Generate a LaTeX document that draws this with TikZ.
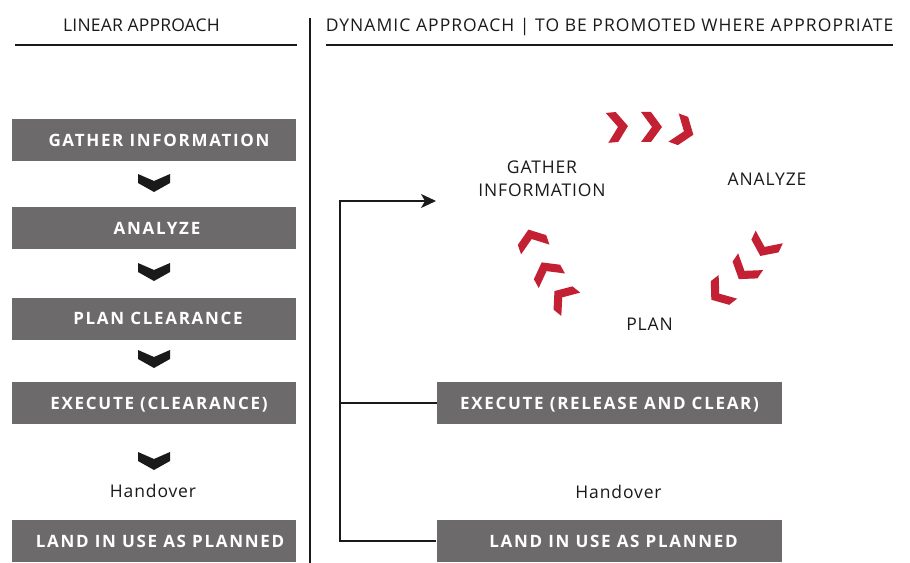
\documentclass[tikz,border=0pt]{standalone}
\usepackage{fontspec}
\setmainfont{Open Sans}
\newfontfamily\boxfont[LetterSpace=10]{Open Sans Bold}
\newfontfamily\hdfont[LetterSpace=5]{Open Sans}
\newfontfamily\hdfontB[LetterSpace=1]{Open Sans}
\newfontfamily\hdfontC[LetterSpace=6]{Open Sans}
\usetikzlibrary{arrows.meta}
\definecolor{boxgray}{RGB}{109,106,107}
\definecolor{chevred}{RGB}{196,32,52}
\definecolor{ink}{RGB}{26,26,26}
\begin{document}
\begin{tikzpicture}[x=1bp,y=-1bp,
  plain/.style={font=\hdfont\fontsize{17.5bp}{23bp}\selectfont, text=ink, inner sep=0pt, align=center},
  header/.style={plain, text height=12.5bp, text depth=0pt},
  graybox/.style={fill=boxgray, text=white, font=\boxfont\fontsize{17bp}{19bp}\selectfont,
     minimum height=42bp, inner sep=0pt, text height=12.1bp, text depth=0pt},
  leftbox/.style={graybox, minimum width=284bp},
  rightbox/.style={graybox, minimum width=345bp},
  rulex/.style={draw=ink, line width=1.2bp},
  link/.style={draw=ink, line width=1.2bp},
  redchev/.pic={\fill[chevred] (-10,-15) -- (0,-15) -- (11,0) -- (0,15) -- (-10,15) -- (1,0) -- cycle;},
  blackchev/.pic={\fill[ink] (-16,-9) -- (0,-2) -- (16,-9) -- (16,0) -- (0,9) -- (-16,0) -- cycle;}
]
\fill[white] (0,0) rectangle (910,563);
\useasboundingbox (0,0) rectangle (910,563);

% headers
\node[header, font=\hdfontB\fontsize{17.5bp}{23bp}\selectfont] (hl) at (141.5,25) {LINEAR APPROACH};
\node[header, font=\hdfontC\fontsize{17.5bp}{23bp}\selectfont] (hr) at (609.5,25) {DYNAMIC APPROACH | TO BE PROMOTED WHERE APPROPRIATE};
\draw[rulex] (15,45) -- (297,45);
\draw[rulex] (326,45) -- (893,45);
\draw[rulex] (310,18) -- (310,563);

% left column
\node[leftbox] (l1) at (154,140) {\hspace*{10bp}GATHER INFORMATION};
\node[leftbox] (l2) at (154,228) {\hspace*{6bp}ANALYZE};
\node[leftbox] (l3) at (154,318.5) {\hspace*{8bp}PLAN CLEARANCE};
\node[leftbox] (l4) at (154,403) {\hspace*{10bp}EXECUTE (CLEARANCE)};
\node[plain] (lh) at (153,491) {Handover};
\node[leftbox] (l5) at (154,541) {\hspace*{12bp}LAND IN USE AS PLANNED};

\pic at (154,183) {blackchev};
\pic at (154,272) {blackchev};
\pic at (154,359) {blackchev};
\pic at (154,461) {blackchev};

% right column
\node[plain] (rg) at (542,178.5) {GATHER\\INFORMATION};
\node[plain] (ra) at (767,179) {ANALYZE};
\node[plain] (rp) at (649.5,324) {PLAN};
\node[rightbox] (re) at (609.5,403) {EXECUTE (RELEASE AND CLEAR)};
\node[plain] (rh) at (618.5,492) {Handover};
\node[rightbox] (rl) at (609,541) {\hspace*{9bp}LAND IN USE AS PLANNED};

\pic[rotate=5] at (617,127) {redchev};
\pic at (651,127) {redchev};
\pic[rotate=-20] at (683,131) {redchev};
\pic[rotate=-115] at (765,246) {redchev};
\pic[rotate=-124] at (745,270) {redchev};
\pic[rotate=-142] at (720,293) {redchev};
\pic[rotate=109] at (532,240) {redchev};
\pic[rotate=119] at (547,272) {redchev};
\pic[rotate=141] at (563,298) {redchev};

% bracket
\coordinate (bb) at (340,541);
\coordinate (tip) at (436,201);
\draw[link, -{Stealth[length=15bp,width=14bp,inset=4bp]}] (rl.west) -- (bb) |- (tip);
\draw[link] (re.west) -- (re.west -| bb);
\end{tikzpicture}
\end{document}
